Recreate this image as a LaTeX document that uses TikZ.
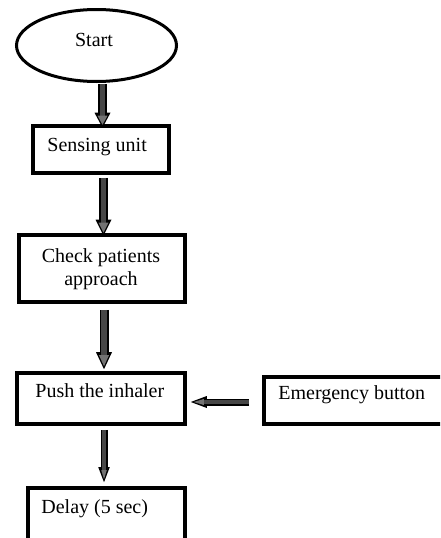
\documentclass[tikz,border=0pt]{standalone}
\usepackage{fontspec}
\setmainfont{Liberation Serif}
\usetikzlibrary{shapes.geometric,arrows.meta,calc}
\tikzset{
  boxnode/.style={draw=black, line width=3.6pt, rectangle, inner sep=0pt},
  ovalnode/.style={draw=black, line width=3pt, ellipse, inner sep=0pt},
  txt/.style={inner sep=0pt, anchor=base west},
  blockarrow/.style n args={3}{draw=black, line width=#1,
    -{Triangle[width=#2,length=#3,line width=0pt]},
    postaction={draw=black!72, line width=#1-3.5pt,
      -{Triangle[width=#2-6pt,length=#3-6pt,line width=0pt,color=black!55]}, shorten >=3pt}},
}
\begin{document}
\begin{tikzpicture}[x=1pt,y=-1pt,font=\fontsize{20}{23.5}\selectfont]
\useasboundingbox (0,0) rectangle (440,538);
\fill[white] (0,0) rectangle (440,538);
\clip (0,0) rectangle (440,538);
% nodes
\node[ovalnode, minimum width=160pt, minimum height=72pt] (start) at (96.5,45.5) {};
\node[inner sep=0pt, anchor=base] (starttxt) at ($(start.center)+(-2.5,0.5)$) {Start};

\node[boxnode, minimum width=136pt, minimum height=47pt] (sense) at (101,149.5) {};
\node[txt] (sensetxt) at ($(sense.north west)+(16,27)$) {Sensing unit};

\node[boxnode, minimum width=166pt, minimum height=67pt] (check) at (102,268.5) {};
\node[inner sep=0pt, align=center] (checktxt) at ($(check.center)+(-1,0.5)$) {Check patients\\approach};

\node[boxnode, minimum width=168pt, minimum height=51pt] (push) at (101,398.5) {};
\node[txt] (pushtxt) at ($(push.north west)+(20,26)$) {Push the inhaler};

\node[boxnode, minimum width=196pt, minimum height=47pt] (emerg) at (362,400.5) {};
\node[txt] (emergtxt) at ($(emerg.north west)+(16,24)$) {Emergency button};

\node[boxnode, minimum width=157pt, minimum height=72pt] (delay) at (106.5,524) {};
\node[txt] (delaytxt) at ($(delay.north west)+(15,27)$) {Delay (5 sec)};

% connectors
\draw[blockarrow={9pt}{16pt}{15pt}] ($(start.south)+(6,1)$) -- ($(sense.north)+(1.5,3.5)$);
\draw[blockarrow={9pt}{16pt}{16pt}] ($(sense.south)+(2.5,3)$) -- ($(check.north)+(1.5,2.5)$);
\draw[blockarrow={9pt}{16pt}{17pt}] ($(check.south)+(2,6)$) -- ($(push.north)+(3,-2)$);
\draw[blockarrow={7pt}{11.5pt}{15pt}] ($(push.south)+(3,4)$) -- ($(delay.north)+(-2.5,-4)$);
\draw[blockarrow={7pt}{12pt}{16pt}] ($(emerg.west)+(-13,1.5)$) -- ($(push.east)+(4,3.5)$);
\end{tikzpicture}
\end{document}
